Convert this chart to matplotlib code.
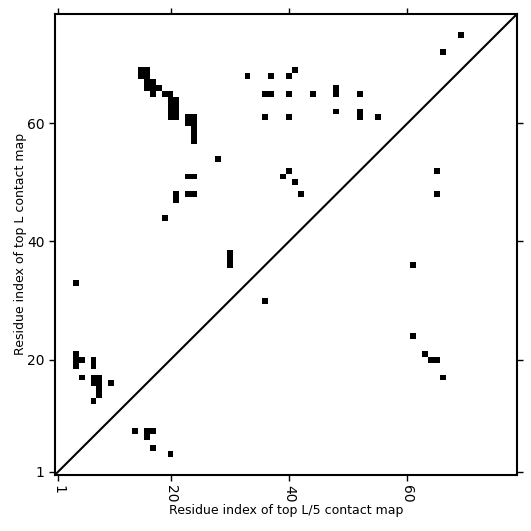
import matplotlib
matplotlib.use('Agg')
import matplotlib.pyplot as plt
import numpy as np

L = 78

# contacts: residue on x axis (top L/5 map) and residue on y axis (top L map)
res_x = [15, 16, 15, 16, 16, 17, 16, 17, 18, 17, 19, 20,
         20, 21, 20, 21, 20, 21, 20, 21,
         23, 24, 23, 24, 24, 24, 24,
         28,
         23, 24, 23, 24, 21, 21, 19,
         30, 30, 30,
         36,
         33, 37, 40, 41,
         36, 37, 40, 44, 48, 48, 52,
         36, 40, 48, 52, 52, 55,
         40, 39, 41, 42,
         65, 65,
         66, 69,
         61, 61, 63, 64, 65, 66,
         4,
         4, 4, 4, 5, 7, 7, 5, 7, 8, 7, 8, 8, 8, 10, 7,
         14, 16, 17, 16, 17, 20]
res_y = [69, 69, 68, 68, 67, 67, 66, 66, 66, 65, 65, 65,
         64, 64, 63, 63, 62, 62, 61, 61,
         61, 61, 60, 60, 59, 58, 57,
         54,
         51, 51, 48, 48, 48, 47, 44,
         38, 37, 36,
         30,
         68, 68, 68, 69,
         65, 65, 65, 65, 65, 66, 65,
         61, 61, 62, 61, 62, 61,
         52, 51, 50, 48,
         52, 48,
         72, 75,
         36, 24, 21, 20, 20, 17,
         33,
         21, 20, 19, 20, 20, 19, 17, 17, 17, 16, 16, 15, 14, 16, 13,
         8, 8, 8, 7, 5, 4]

tick_res = [1, 20, 40, 60]

cmap = np.zeros((L, L))
for i, j in zip(res_x, res_y):
    cmap[j - 1, i - 1] = 1

fig = plt.figure(figsize=(5.31, 5.31), dpi=100)
ax = fig.add_axes([0.1036, 0.1058, 0.87, 0.8678])
ax.imshow(cmap, cmap='Greys', origin='lower', interpolation='nearest',
          vmin=0, vmax=1, aspect='auto')
ax.plot([-0.5, L - 0.5], [-0.5, L - 0.5], color='black', lw=1.5)
ax.set_xlim(-0.5, L - 0.5)
ax.set_ylim(-0.5, L - 0.5)

ticks = [t - 1 for t in tick_res]
ax.set_xticks(ticks)
ax.set_xticklabels([str(t) for t in tick_res], rotation=270)
ax.set_yticks(ticks)
ax.set_yticklabels([str(t) for t in tick_res])
ax.tick_params(direction='out', length=4, width=1, top=True, right=True,
               labelsize=10)
for s in ax.spines.values():
    s.set_linewidth(1.5)

ax.set_xlabel('Residue index of top L/5 contact map', fontsize=9, labelpad=1)
ax.set_ylabel('Residue index of top L contact map', fontsize=9, labelpad=0)

fig.savefig('out.png', dpi=100)
